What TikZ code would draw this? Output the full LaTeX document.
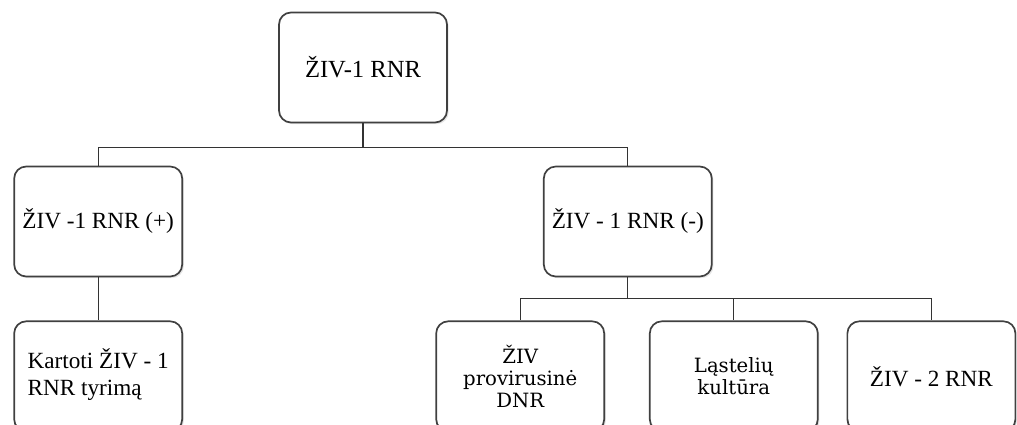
\documentclass[tikz,border=0pt]{standalone}
\usepackage{fontspec}
\setmainfont{Liberation Serif}
\newfontfamily\slabfont{DejaVu Serif}
\usetikzlibrary{shadows}

\begin{document}
\begin{tikzpicture}[
    node distance=3.85cm,
    every node/.style={
        draw=black!75,
        line width=1.2pt,
        rounded corners=0.3cm,
        fill=white,
        drop shadow={opacity=0.2, shadow xshift=1.2pt, shadow yshift=-1.2pt},
        align=center,
        minimum width=4.2cm,
        minimum height=2.75cm,
        font=\fontsize{16.5}{19.5}\selectfont
    },
    slab/.style={font=\slabfont\fontsize{14}{15.8}\selectfont},
    link/.style={draw=black!80, line width=0.8pt}
]

\useasboundingbox (-9.075,1.6875) rectangle (16.35,-8.9375);
\clip (-9.075,1.6875) rectangle (16.35,-8.9375);

\node (top) [font=\fontsize{17.5}{20}\selectfont] {ŽIV-1 RNR};

\node (pos) [below of=top, xshift=-6.62cm]
    {ŽIV -1 RNR (+)};

\node (neg) [below of=top, xshift=6.62cm]
    {ŽIV - 1 RNR (-)};

\node (repeat) [below of=pos, yshift=-0.02cm]
    {\begin{tabular}{@{}l@{}}Kartoti ŽIV - 1\\ RNR tyrimą\end{tabular}};

\node (dnr) [below of=neg, xshift=-2.69cm, yshift=-0.02cm, slab]
    {ŽIV\\ provirusinė\\ DNR};

\node (cult) [below of=neg, xshift=2.65cm, yshift=-0.02cm, slab]
    {Ląstelių\\ kultūra};

\node (hiv2) [below of=neg, xshift=7.59cm, yshift=-0.02cm]
    {ŽIV - 2 RNR};

\draw [link] (top.south) -- ++(0,-0.6) -| (pos.north);
\draw [link] (top.south) -- ++(0,-0.6) -| (neg.north);
\draw [link] (pos) -- (repeat);
\draw [link] (neg.south) -- ++(0,-0.53) -| (dnr.north);
\draw [link] (neg.south) -- ++(0,-0.53) -| (cult.north);
\draw [link] (neg.south) -- ++(0,-0.53) -| (hiv2.north);

\end{tikzpicture}
\end{document}
